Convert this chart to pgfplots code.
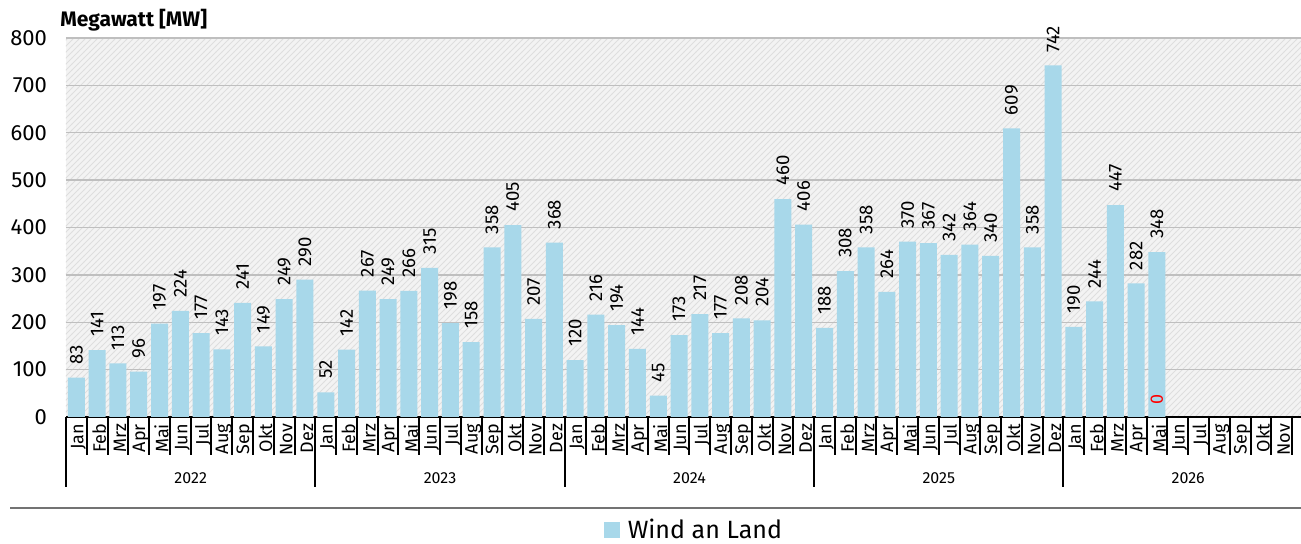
\documentclass[border=0pt]{standalone}
\usepackage{pgfplots}
\pgfplotsset{compat=1.18}
\usepackage{pgfplotstable}
\usetikzlibrary{patterns}
\usepackage{fontspec}
\setmainfont{Fira Sans}
\definecolor{barblue}{RGB}{168,216,234}
\definecolor{bgray}{RGB}{243,243,243}
\definecolor{hgray}{RGB}{222,222,222}
\pgfplotstableread{
idx val
0 83
1 141
2 113
3 96
4 197
5 224
6 177
7 143
8 241
9 149
10 249
11 290
12 52
13 142
14 267
15 249
16 266
17 315
18 198
19 158
20 358
21 405
22 207
23 368
24 120
25 216
26 194
27 144
28 45
29 173
30 217
31 177
32 208
33 204
34 460
35 406
36 188
37 308
38 358
39 264
40 370
41 367
42 342
43 364
44 340
45 609
46 358
47 742
48 190
49 244
50 447
51 282
52 348
}\windtable
\begin{document}
\begin{tikzpicture}
\useasboundingbox (0,0) rectangle (650.5pt,-272pt);
\begin{axis}[
  at={(33pt,-208.5pt)}, anchor=south west,
  scale only axis, width=617.5pt, height=189.5pt,
  xmin=-0.5, xmax=58.93, ymin=0, ymax=800,
  clip=false,
  axis lines*=left,
  y axis line style={draw=none},
  x axis line style={line width=1pt},
  axis background/.style={fill=bgray, postaction={pattern=north east lines, pattern color=hgray}},
  ytick={0,100,...,800},
  ymajorgrids, grid style={black!25, line width=0.7pt},
  ytick style={draw=none},
  /pgf/number format/assume math mode=true,
  yticklabel style={font=\fontsize{11}{13}\selectfont, anchor=east, xshift=-6pt},
  xtick={0,...,58},
  xticklabels={Jan,Feb,Mrz,Apr,Mai,Jun,Jul,Aug,Sep,Okt,Nov,Dez,
               Jan,Feb,Mrz,Apr,Mai,Jun,Jul,Aug,Sep,Okt,Nov,Dez,
               Jan,Feb,Mrz,Apr,Mai,Jun,Jul,Aug,Sep,Okt,Nov,Dez,
               Jan,Feb,Mrz,Apr,Mai,Jun,Jul,Aug,Sep,Okt,Nov,Dez,
               Jan,Feb,Mrz,Apr,Mai,Jun,Jul,Aug,Sep,Okt,Nov},
  xtick style={draw=none},
  xticklabel style={rotate=90, anchor=east, font=\fontsize{9}{10}\selectfont, yshift=-1pt},
  legend style={at={(0.511,-0.298)}, anchor=center, draw=none, fill=none,
                font=\fontsize{12.5}{14}\selectfont},
  legend image code/.code={\fill[barblue] (0pt,-3.9pt) rectangle (7.8pt,3.9pt);},
  legend cell align=left,
  legend style={nodes={inner xsep=4pt}},
]
\addplot[ybar, bar width=8.5pt, fill=barblue, draw=none,
  nodes near coords,
  every node near coord/.append style={rotate=90, anchor=west, font=\fontsize{9.3}{11}\selectfont, inner xsep=6.5pt, inner ysep=1pt, black}]
  table[x=idx, y=val] {\windtable};
\addlegendentry{Wind an Land}
\node[rotate=90, anchor=west, text=red, font=\fontsize{9}{10}\selectfont, inner sep=0pt] at (axis cs:52,25) {0};
\pgfplotsinvokeforeach{-0.5,0.5,...,58.5}{
  \draw[line width=1pt] (axis cs:#1,0) -- ++(0pt,-19pt);
}
\pgfplotsinvokeforeach{-0.5,11.5,23.5,35.5,47.5}{
  \draw[line width=1pt] (axis cs:#1,0) -- ++(0pt,-35pt);
}
\node[anchor=base, font=\fontsize{8}{10}\selectfont] at (axis cs:5.5,0) [yshift=-33.5pt] {2022};
\node[anchor=base, font=\fontsize{8}{10}\selectfont] at (axis cs:17.5,0) [yshift=-33.5pt] {2023};
\node[anchor=base, font=\fontsize{8}{10}\selectfont] at (axis cs:29.5,0) [yshift=-33.5pt] {2024};
\node[anchor=base, font=\fontsize{8}{10}\selectfont] at (axis cs:41.5,0) [yshift=-33.5pt] {2025};
\node[anchor=base, font=\fontsize{8}{10}\selectfont] at (axis cs:53.5,0) [yshift=-33.5pt] {2026};
\end{axis}
\node[anchor=base west, font=\bfseries\fontsize{10.5}{12}\selectfont, inner sep=0pt] at (30pt,-13.5pt) {Megawatt [MW]};
\draw[black!55, line width=1pt] (5pt,-254pt) -- (650.5pt,-254pt);
\end{tikzpicture}
\end{document}
